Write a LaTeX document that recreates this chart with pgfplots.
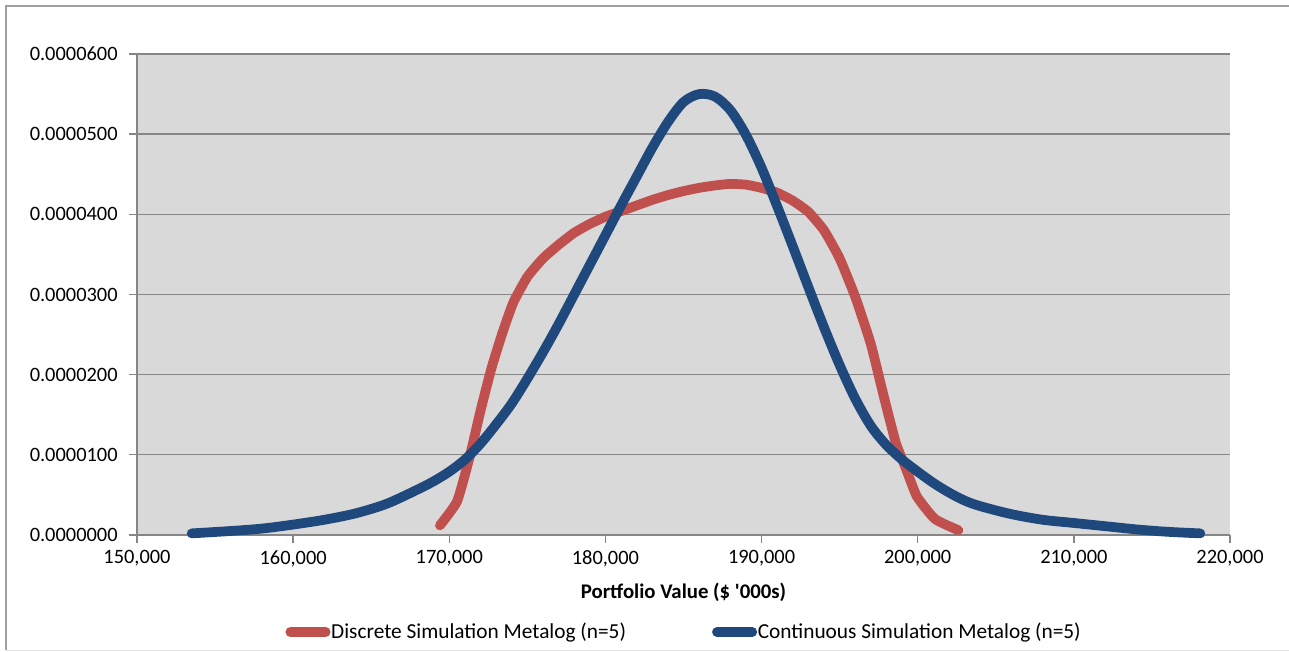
\documentclass[border=0pt]{standalone}
\usepackage{fontspec}
\setmainfont{Carlito}
\usepackage{pgfplots}
\pgfplotsset{compat=1.18}

\definecolor{discreteRed}{RGB}{192,80,77}
\definecolor{contBlue}{RGB}{31,73,125}
\definecolor{plotGray}{RGB}{217,217,217}
\definecolor{lineGray}{RGB}{134,134,134}
\definecolor{frameGray}{RGB}{160,160,160}
\definecolor{frameLight}{RGB}{228,228,228}

% Density of the discrete-simulation metalog
\pgfplotstableread{
x       y
169400  0.0000012
170500  0.0000042
171300  0.0000097
172000  0.0000155
172700  0.0000208
173400  0.0000252
174100  0.0000290
175000  0.0000322
176000  0.0000345
177000  0.0000362
178000  0.0000377
179000  0.0000388
180000  0.0000397
181000  0.0000404
182000  0.0000411
183000  0.0000418
184000  0.0000424
185000  0.0000429
186000  0.0000433
187000  0.0000436
188000  0.0000438
189000  0.0000437
190000  0.0000433
191000  0.0000427
192000  0.0000417
193000  0.0000403
194000  0.0000380
195000  0.0000345
196000  0.0000297
197000  0.0000238
197800  0.0000175
198600  0.0000115
199300  0.0000080
199950  0.0000048
201100  0.0000020
202600  0.0000006
}\discretetable

% Density of the continuous-simulation metalog
\pgfplotstableread{
x       y
153500  0.0000002
156000  0.0000005
158000  0.0000008
160000  0.0000013
162000  0.0000019
164000  0.0000027
166000  0.0000039
168000  0.0000057
169000  0.0000067
170000  0.0000079
171000  0.0000094
172000  0.0000114
173000  0.0000138
174000  0.0000164
175000  0.0000195
176000  0.0000228
177000  0.0000263
178000  0.0000300
179000  0.0000337
180000  0.0000374
181000  0.0000411
182000  0.0000447
183000  0.0000483
184000  0.0000515
185000  0.0000540
186000  0.0000550
187000  0.0000547
188000  0.0000530
189000  0.0000499
190000  0.0000458
191000  0.0000410
192000  0.0000360
193000  0.0000309
194000  0.0000259
195000  0.0000212
196000  0.0000170
197000  0.0000136
198000  0.0000112
199000  0.0000094
200000  0.0000079
201000  0.0000065
202000  0.0000053
203000  0.0000043
204000  0.0000036
206000  0.0000026
208000  0.0000019
210000  0.0000015
212000  0.0000011
214000  0.0000007
216000  0.0000004
218100  0.0000002
}\continuoustable

\begin{document}
\begin{tikzpicture}[x=1pt,y=1pt]
\useasboundingbox (-102.75,-87.75) rectangle (864,401.25);
% chart frame
\draw[frameGray, line width=1pt] (864,396.75) -- (-98.25,396.75) -- (-98.25,-86.6);
\draw[frameLight, line width=1pt] (-98.25,-86.6) -- (864,-86.6);
\begin{axis}[
  at={(0,0)}, anchor=south west,
  scale only axis,
  width=819.75pt, height=360.75pt,
  xmin=150000, xmax=220000,
  ymin=0, ymax=0.00006,
  xtick={150000,160000,...,220000},
  ytick={0,0.00001,...,0.00006},
  scaled x ticks=false, scaled y ticks=false,
  axis lines*=left,
  axis line style={lineGray, line width=1pt},
  axis background/.style={fill=plotGray},
  ymajorgrids,
  major grid style={lineGray, line width=1pt},
  tick style={lineGray, line width=1pt},
  major tick length=6pt,
  tick align=outside,
  every tick label/.append style={font=\fontsize{15.3}{18}\selectfont, text=black},
  /pgf/number format/assume math mode=true,
  xticklabel style={/pgf/number format/.cd, fixed, 1000 sep={,}, precision=0, assume math mode=true, /tikz/.cd, yshift=-2pt},
  yticklabel style={/pgf/number format/.cd, fixed, fixed zerofill, precision=7, assume math mode=true, /tikz/.cd, xshift=-5pt},
  xlabel={\textbf{Portfolio Value (\$ \textquotesingle000s)}},
  xlabel style={font=\fontsize{15.6}{18}\selectfont, at={(axis description cs:0.5,-0.1185)}, anchor=center},
  legend columns=2,
  legend style={at={(axis description cs:0.5,-0.2017)}, anchor=center, draw=none, fill=none,
    font=\fontsize{16}{19}\selectfont, inner sep=0pt,
    /tikz/every even column/.append style={column sep=64pt},
    /tikz/every odd column/.append style={column sep=0pt},
    nodes={inner xsep=0.5pt, inner ysep=2pt}},
  legend image code/.code={\draw[#1, line cap=round] (3.5pt,0pt) -- (30pt,0pt);},
  clip=false,
]
\addplot[discreteRed, line width=7.3pt, line cap=round, line join=round, smooth, tension=0.3] table[x=x, y=y] {\discretetable};
\addlegendentry{Discrete Simulation Metalog (n=5)}
\addplot[contBlue, line width=7.3pt, line cap=round, line join=round, smooth, tension=0.5] table[x=x, y=y] {\continuoustable};
\addlegendentry{Continuous Simulation Metalog (n=5)}
\end{axis}
\end{tikzpicture}
\end{document}
